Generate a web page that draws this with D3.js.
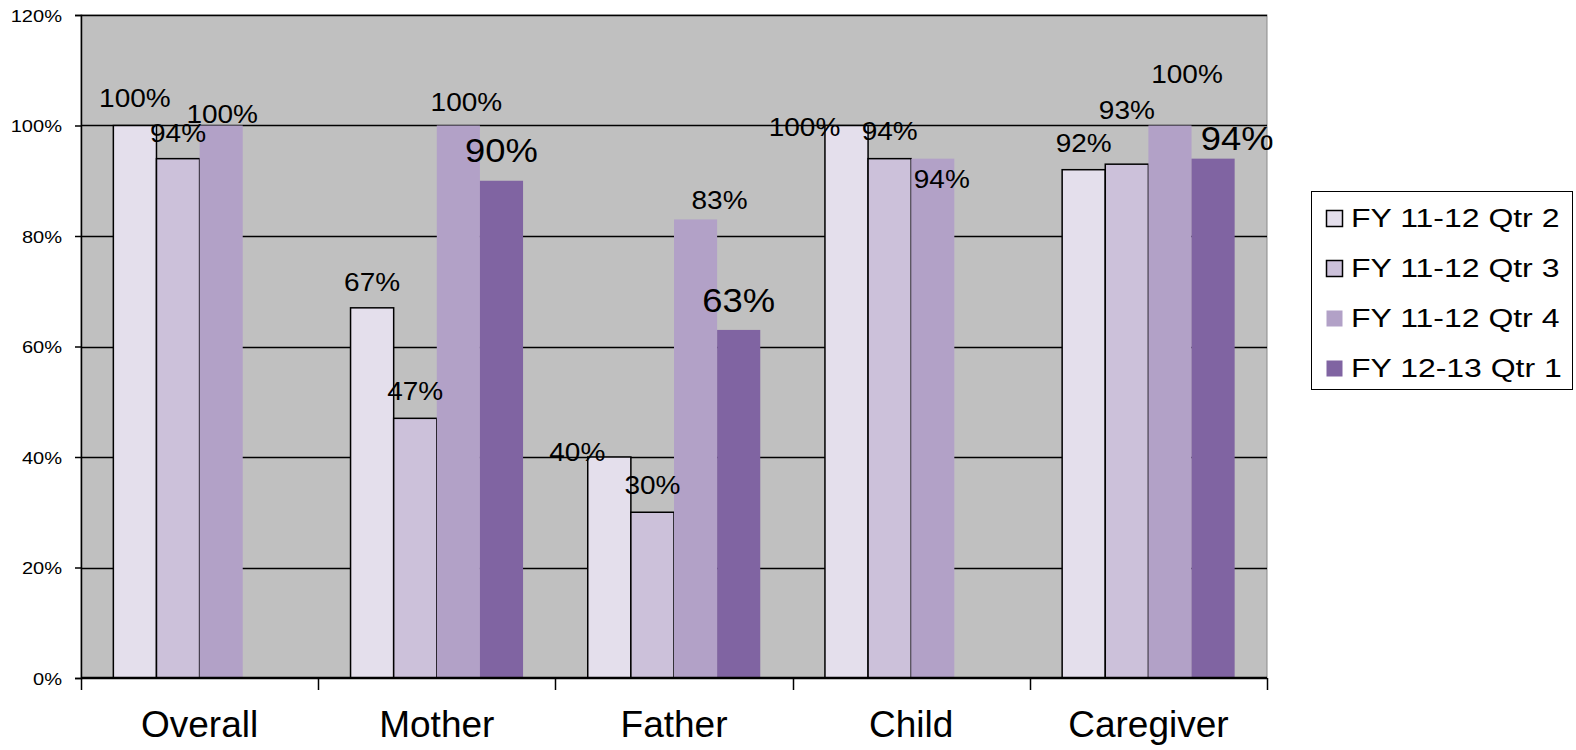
<!DOCTYPE html>
<html>
<head>
<meta charset="utf-8">
<script src="https://cdn.jsdelivr.net/npm/d3@7"></script>
<style>
  body { margin: 0; background: #fff; }
  text { font-family: Arial, "Liberation Sans", sans-serif; fill: #000; }
</style>
</head>
<body>
<div id="chart"></div>
<script>
// Survey results by respondent type, four quarters side by side

const categories = ["Overall", "Mother", "Father", "Child", "Caregiver"];
const seriesNames = ["FY 11-12 Qtr 2", "FY 11-12 Qtr 3", "FY 11-12 Qtr 4", "FY 12-13 Qtr 1"];
const qtr2 = [100, 67, 40, 100, 92];
const qtr3 = [94, 47, 30, 94, 93];
const qtr4 = [100, 100, 83, 94, 100];
const qtr1 = [null, 90, 63, null, 94];
const yTicks = [0, 20, 40, 60, 80, 100, 120];

const seriesValues = [qtr2, qtr3, qtr4, qtr1];
const colors = ["#E4DFEC", "#CCC1DA", "#B2A1C7", "#8064A2"];
const outlined = [true, true, false, false];

// hand-placed label nudges from the original (dx from bar centre, dy from bar top)
const labelNudge = [
  [[0, -19], [0, -17], [-32, 4], [-42, 10], [0, -18]],
  [[0, -17], [0, -18], [0, -18], [0, -19], [0, -45]],
  [[1, -3], [8, -15], [24, -10], [9, 29], [17, -43]],
  [[0, 0], [0, -19], [0, -18], [0, 0], [24, -9]]
];

const width = 1576, height = 750;
const plot = { left: 81, right: 1267, top: 15, bottom: 678 };

const svg = d3.select("#chart").append("svg")
  .attr("width", width)
  .attr("height", height);

const x = d3.scaleBand()
  .domain(categories)
  .range([plot.left, plot.right]);

const xs = d3.scaleBand()
  .domain(seriesNames)
  .range([0, x.bandwidth()])
  .paddingInner(0)
  .paddingOuter(0.75);

const y = d3.scaleLinear()
  .domain([0, 120])
  .range([plot.bottom, plot.top]);

// plot background
svg.append("rect")
  .attr("x", plot.left)
  .attr("y", plot.top)
  .attr("width", plot.right - plot.left)
  .attr("height", plot.bottom - plot.top)
  .attr("fill", "#C0C0C0")
  .attr("stroke", "#8a8a8a")
  .attr("stroke-width", 1);

// gridlines
svg.append("g")
  .selectAll("line")
  .data(yTicks.filter(d => d > 0))
  .join("line")
  .attr("x1", plot.left)
  .attr("x2", plot.right)
  .attr("y1", d => Math.round(y(d)) + 0.5)
  .attr("y2", d => Math.round(y(d)) + 0.5)
  .attr("stroke", "#000")
  .attr("stroke-width", 1.5);

// bars
seriesValues.forEach((vals, si) => {
  svg.append("g")
    .selectAll("rect")
    .data(categories.map((c, ci) => ({ cat: c, v: vals[ci] })).filter(d => d.v != null))
    .join("rect")
    .attr("x", d => x(d.cat) + xs(seriesNames[si]))
    .attr("y", d => y(d.v))
    .attr("width", xs.bandwidth())
    .attr("height", d => plot.bottom - y(d.v))
    .attr("fill", colors[si])
    .attr("stroke", outlined[si] ? "#000" : "none")
    .attr("stroke-width", 1.5);
});

// y axis
const yAxis = svg.append("g")
  .attr("transform", `translate(${plot.left},0)`)
  .call(d3.axisLeft(y).tickValues(yTicks).tickSize(6).tickFormat(d => d + "%"));
yAxis.select(".domain").attr("stroke", "#000").attr("stroke-width", 1.5);
yAxis.selectAll(".tick line").attr("stroke", "#000").attr("stroke-width", 1.5);
yAxis.selectAll(".tick text")
  .attr("x", null)
  .attr("dy", null)
  .attr("transform", "translate(-19,6) scale(1.18,1)")
  .style("font-size", "17px")
  .style("font-family", "Arial, 'Liberation Sans', sans-serif")
  .attr("fill", "#000");

// x axis: baseline, boundary ticks and category labels
svg.append("line")
  .attr("x1", plot.left)
  .attr("x2", plot.right)
  .attr("y1", plot.bottom)
  .attr("y2", plot.bottom)
  .attr("stroke", "#000")
  .attr("stroke-width", 2.5);

const bounds = categories.map(c => x(c)).concat([x(categories[categories.length - 1]) + x.bandwidth()]);
svg.append("g")
  .selectAll("line")
  .data(bounds)
  .join("line")
  .attr("x1", d => Math.round(d) + 0.5)
  .attr("x2", d => Math.round(d) + 0.5)
  .attr("y1", plot.bottom)
  .attr("y2", plot.bottom + 12)
  .attr("stroke", "#000")
  .attr("stroke-width", 1.5);

svg.append("g")
  .selectAll("text")
  .data(categories)
  .join("text")
  .attr("x", d => x(d) + x.bandwidth() / 2)
  .attr("y", 737)
  .attr("text-anchor", "middle")
  .style("font-size", "37px")
  .text(d => d);

// data labels
seriesValues.forEach((vals, si) => {
  const big = si === 3;
  svg.append("g")
    .selectAll("text")
    .data(categories.map((c, ci) => ({ cat: c, ci: ci, v: vals[ci] })).filter(d => d.v != null))
    .join("text")
    .attr("text-anchor", "middle")
    .attr("transform", d => {
      const n = labelNudge[si][d.ci];
      const cx = x(d.cat) + xs(seriesNames[si]) + xs.bandwidth() / 2 + n[0];
      const cy = y(d.v) + n[1];
      return `translate(${cx},${cy}) scale(${big ? 1.07 : 1.12},1)`;
    })
    .style("font-size", big ? "34px" : "25px")
    .text(d => d.v + "%");
});

// legend
const legend = svg.append("g").attr("transform", "translate(1311,191)");
legend.append("rect")
  .attr("x", 0.5)
  .attr("y", 0.5)
  .attr("width", 261)
  .attr("height", 198)
  .attr("fill", "#fff")
  .attr("stroke", "#000")
  .attr("stroke-width", 1);

seriesNames.forEach((name, i) => {
  const row = legend.append("g").attr("transform", `translate(0,${36 + i * 50})`);
  row.append("rect")
    .attr("x", 15.5)
    .attr("y", -16.5)
    .attr("width", 16)
    .attr("height", 16)
    .attr("fill", colors[i])
    .attr("stroke", outlined[i] ? "#000" : "none")
    .attr("stroke-width", 1.5);
  row.append("text")
    .attr("transform", "translate(40,0) scale(1.23,1)")
    .style("font-size", "26px")
    .text(name);
});
</script>
</body>
</html>
